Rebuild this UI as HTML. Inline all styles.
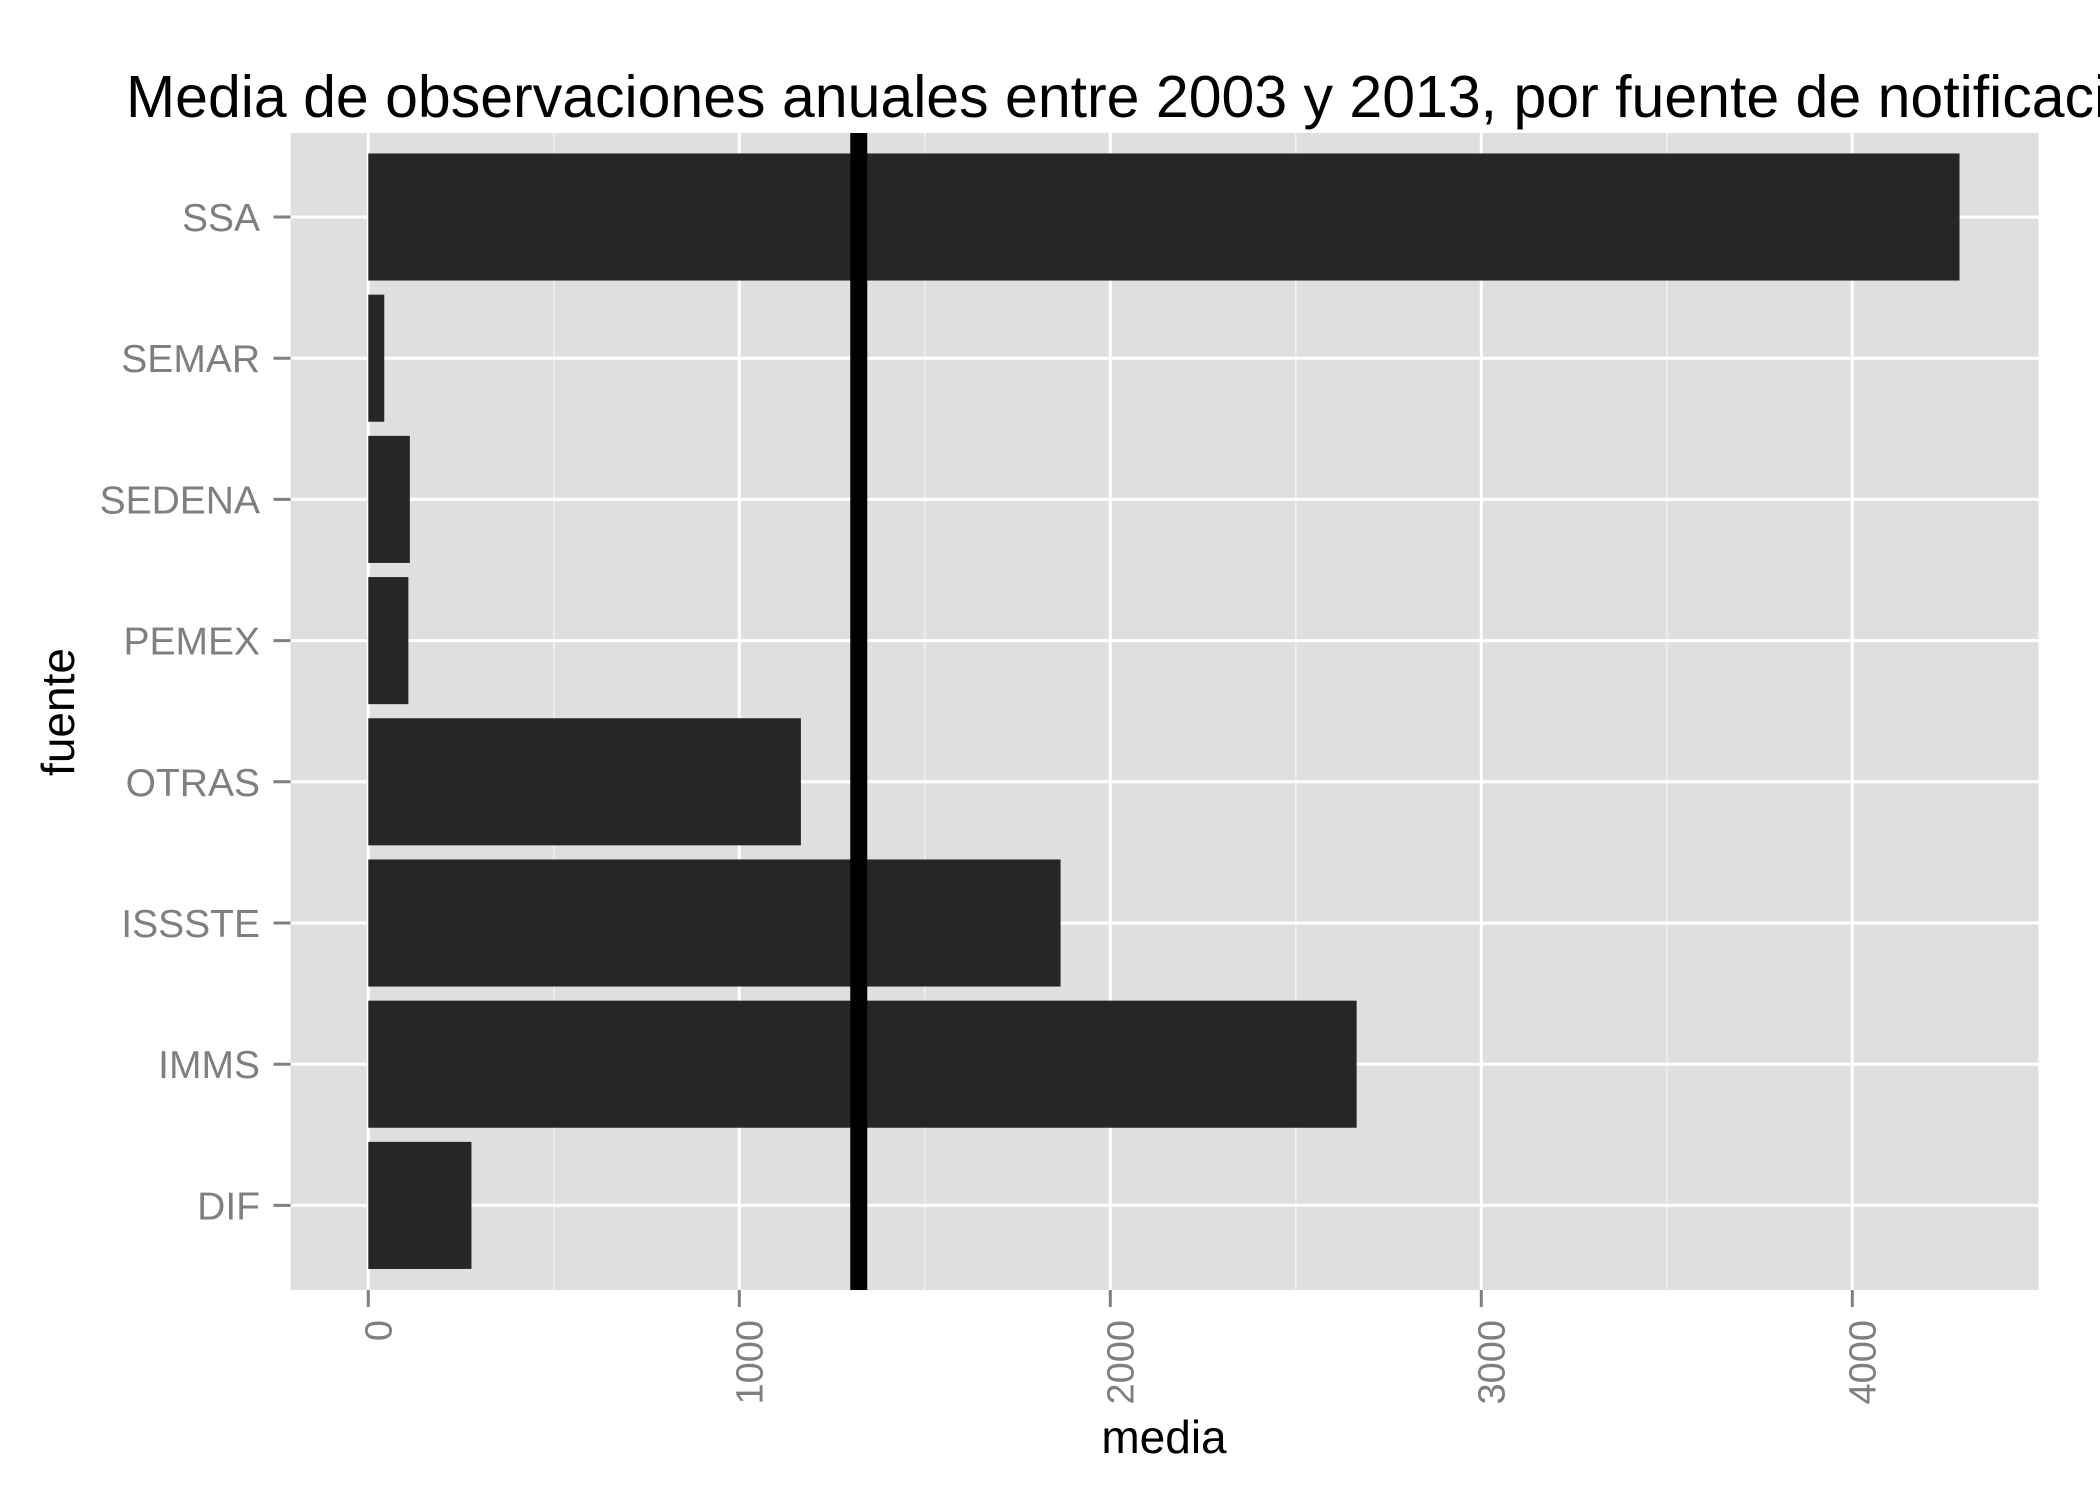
<!DOCTYPE html>
<html><head><meta charset="utf-8"><style>
html,body{margin:0;padding:0;background:#fff;}
svg{display:block;font-family:"Liberation Sans",sans-serif;}
</style></head><body>
<svg id="chart" width="2100" height="1500" viewBox="0 0 2100 1500">
<text x="126" y="117" font-size="59" fill="#000">Media de observaciones anuales entre 2003 y 2013, por fuente de notificación</text>
<rect x="290.5" y="133" width="1748" height="1157" fill="#DFDFDF"/>
<g id="grid"></g>
<g id="bars"></g>
<g id="axes"></g>
<text x="1164" y="1453" font-size="46" text-anchor="middle" fill="#000">media</text>
<text transform="translate(74,712) rotate(-90)" font-size="46" text-anchor="middle" fill="#000">fuente</text>
</svg>
<script>
const categories = ["SSA","SEMAR","SEDENA","PEMEX","OTRAS","ISSSTE","IMMS","DIF"];
const values = [4289, 43, 112, 108, 1166, 1866, 2664, 278];
const xTicks = [0, 1000, 2000, 3000, 4000];
const xMinor = [500, 1500, 2500, 3500];
const meanValue = 1322;

const NS = "http://www.w3.org/2000/svg";
const panelL = 290.5, panelR = 2038.5, panelT = 133, panelB = 1290;
const x = v => 368.3 + v * 0.371;
const step = 141.2;
const y = i => 217 + i * step;
const barH = step * 0.9;

function mk(tag, attrs, parent) {
  const el = document.createElementNS(NS, tag);
  for (const k in attrs) el.setAttribute(k, attrs[k]);
  parent.appendChild(el);
  return el;
}
const grid = document.getElementById("grid");
const bars = document.getElementById("bars");
const axes = document.getElementById("axes");

xMinor.forEach(v => {
  const l = mk("line", {x1: x(v), x2: x(v), y1: panelT, y2: panelB, stroke: "#F2F2F2", "stroke-width": 1.5}, grid);
  
  
});
xTicks.forEach(v => {
  const l = mk("line", {x1: x(v), x2: x(v), y1: panelT, y2: panelB, stroke: "#fff", "stroke-width": 3}, grid);
  
  
  const t = mk("line", {x1: x(v), x2: x(v), y1: panelB, y2: panelB + 17, stroke: "#7F7F7F", "stroke-width": 3}, axes);
  
  
  const lb = mk("text", {transform: `translate(${x(v) + 23},1320) rotate(-90)`, "font-size": 38, fill: "#7F7F7F", "text-anchor": "end"}, axes);
  lb.textContent = v;
  
  
});
categories.forEach((c, i) => {
  const l = mk("line", {x1: panelL, x2: panelR, y1: y(i), y2: y(i), stroke: "#fff", "stroke-width": 3}, grid);
  
  
  const b = mk("rect", {x: x(0), y: y(i) - barH / 2, width: x(values[i]) - x(0), height: barH, fill: "#262626"}, bars);
  
  
  const t = mk("line", {x1: panelL - 17, x2: panelL, y1: y(i), y2: y(i), stroke: "#7F7F7F", "stroke-width": 3}, axes);
  
  
  const lb = mk("text", {x: 260, y: y(i) + 14, "font-size": 39, fill: "#7F7F7F", "text-anchor": "end"}, axes);
  lb.textContent = c;
  
  
});
const m = mk("line", {x1: x(meanValue), x2: x(meanValue), y1: panelT, y2: panelB, stroke: "#000", "stroke-width": 17}, bars);


</script>
</body></html>
